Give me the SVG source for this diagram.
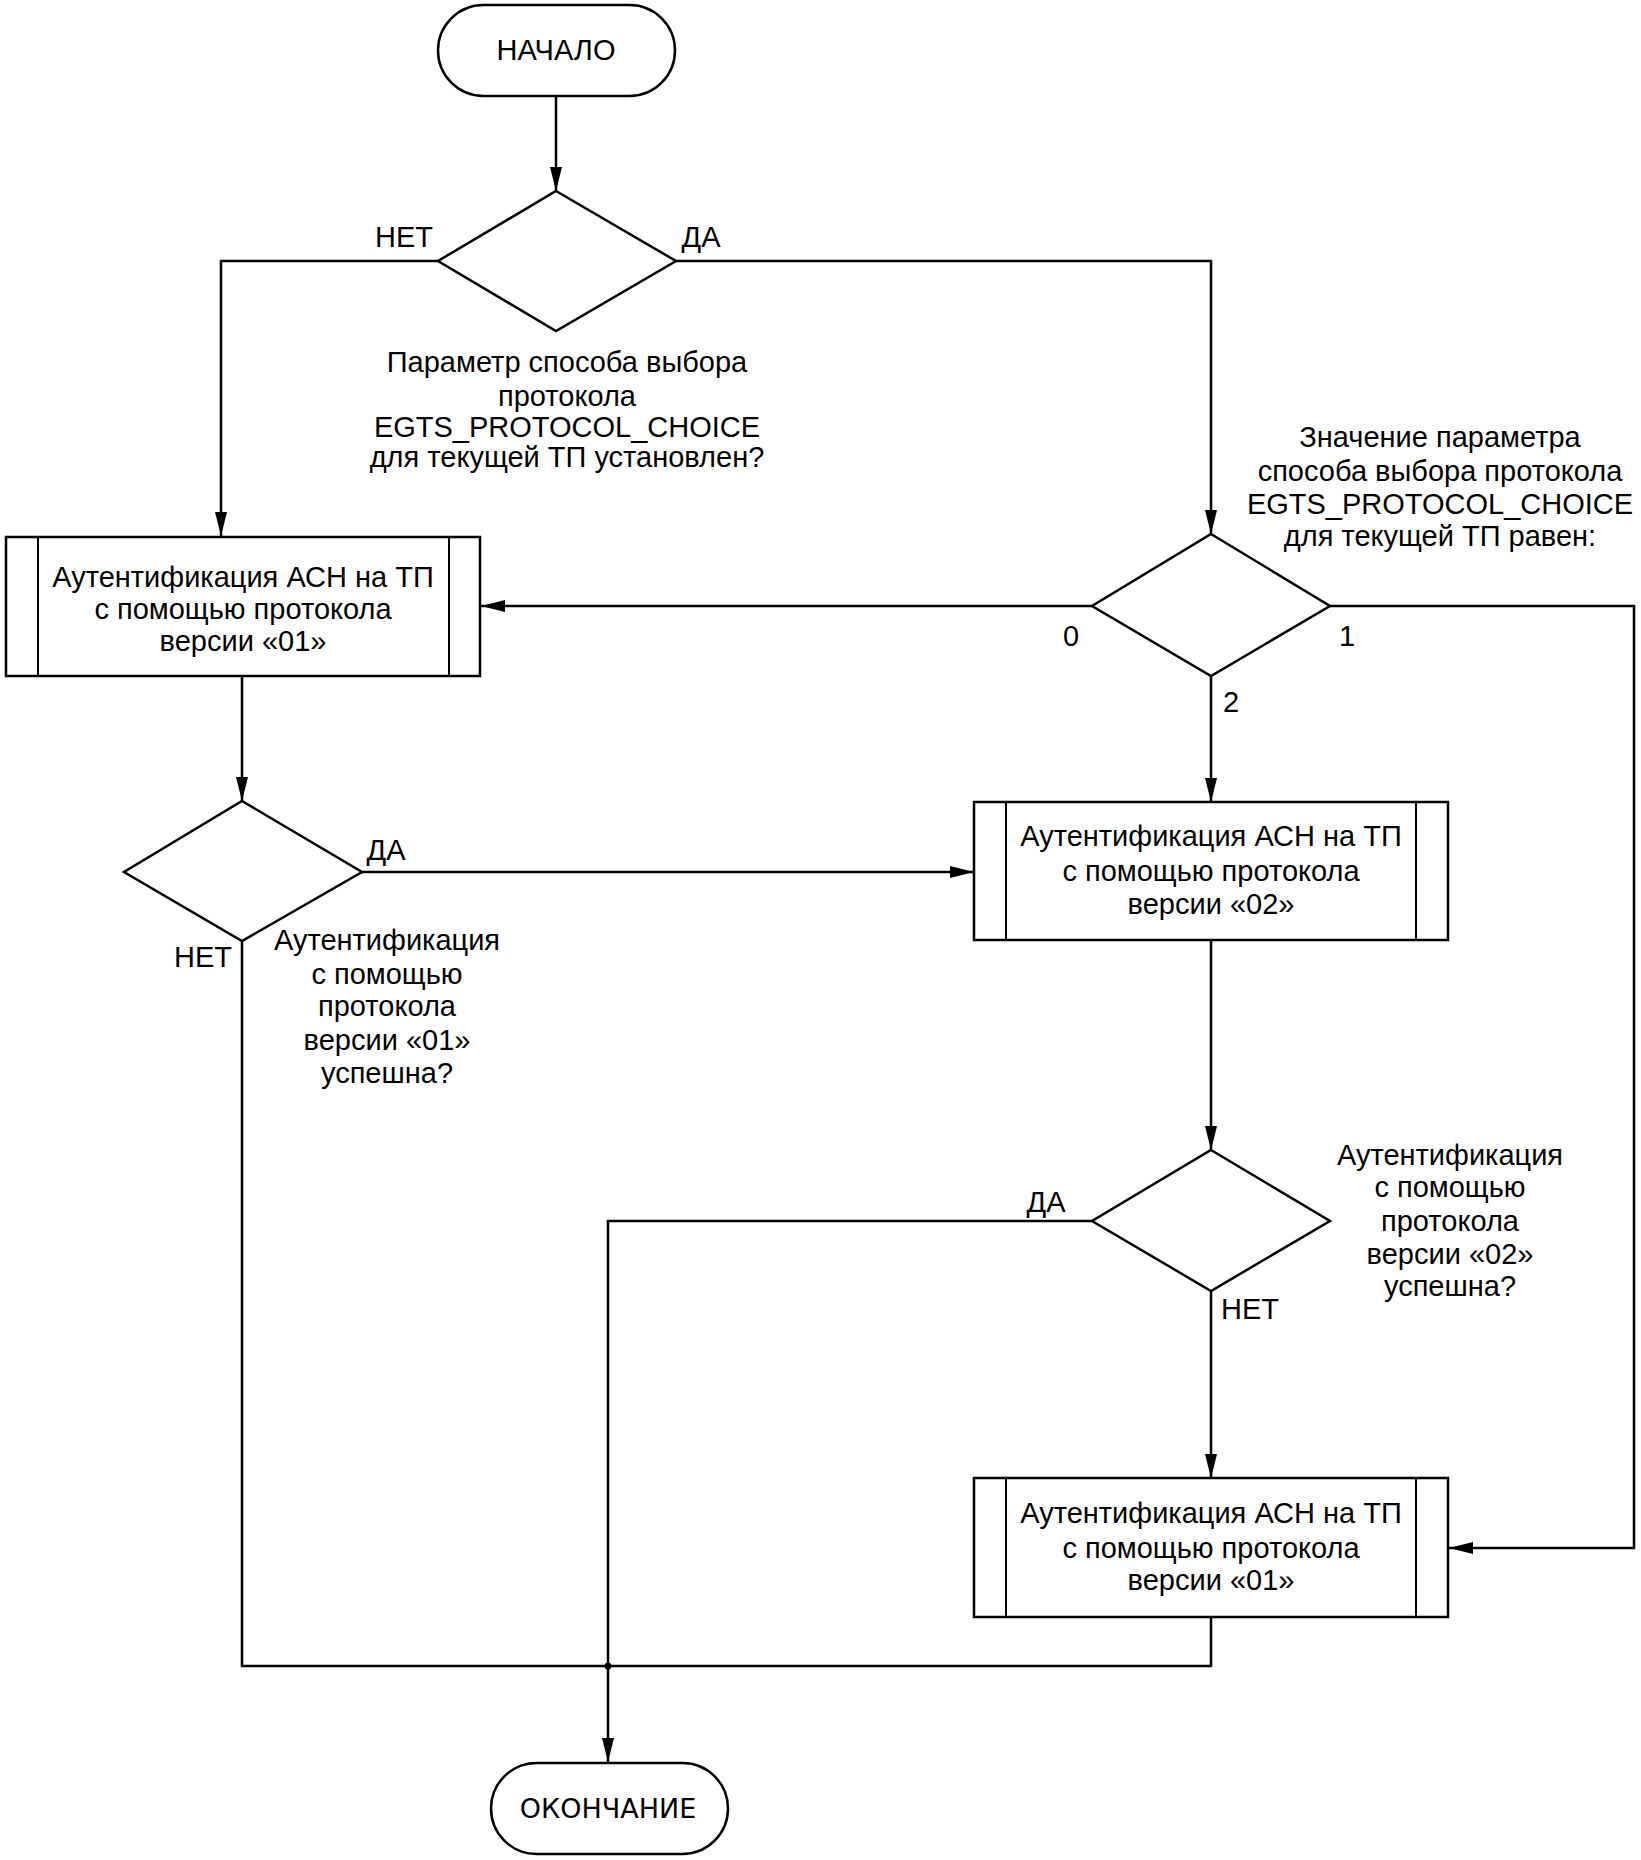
<svg xmlns="http://www.w3.org/2000/svg" width="1641" height="1860" viewBox="0 0 1641 1860">
<defs>
<marker id="arr" viewBox="0 0 24 12" refX="24" refY="6" markerWidth="24" markerHeight="12" markerUnits="userSpaceOnUse" orient="auto">
<path d="M0,0 L24,6 L0,12 Z" fill="#000"/>
</marker>
<style>
.shape{fill:#fff;stroke:#000;stroke-width:2.5}
.bar{fill:none;stroke:#000;stroke-width:2}
.conn{fill:none;stroke:#000;stroke-width:2.5;marker-end:url(#arr)}
.plain{fill:none;stroke:#000;stroke-width:2.5}
text{font-family:"Liberation Sans",Arial,sans-serif;font-size:29px;fill:#000;text-anchor:middle}
.term{font-family:"DejaVu Sans","Liberation Sans",sans-serif;font-size:27px}
.start{font-size:29px}
</style>
</defs>
<rect width="1641" height="1860" fill="#fff"/>
<g id="connectors">
<path class="conn" d="M556,96 L556,191"/>
<path class="conn" d="M438,261 L221,261 L221,536"/>
<path class="conn" d="M676,261 L1211,261 L1211,534"/>
<path class="conn" d="M1092,606 L481,606"/>
<path class="conn" d="M1330,606 L1634,606 L1634,1548 L1449,1548"/>
<path class="conn" d="M1211,676 L1211,802"/>
<path class="conn" d="M242,676 L242,801"/>
<path class="conn" d="M362,872 L974,872"/>
<path class="plain" d="M242,941 L242,1666 L1211,1666 L1211,1617"/>
<path class="conn" d="M1211,940 L1211,1150"/>
<path class="conn" d="M1092,1221 L608,1221 L608,1762"/>
<path class="conn" d="M1211,1291 L1211,1478"/>
<circle cx="608" cy="1666" r="3.5" fill="#000"/>
<text x="404" y="247">НЕТ</text>
<text x="701" y="247">ДА</text>
<text x="1071" y="646">0</text>
<text x="1347" y="646">1</text>
<text x="1231" y="712">2</text>
<text x="386" y="860">ДА</text>
<text x="203" y="967">НЕТ</text>
<text x="1046" y="1212">ДА</text>
<text x="1250" y="1319">НЕТ</text>
</g>
<g id="start">
<rect class="shape" x="438" y="5" width="237" height="91" rx="45.5"/>
<text class="start" x="556" y="60">НАЧАЛО</text>
</g>
<g id="decision1">
<polygon class="shape" points="556,191 676,261 556,331 438,261"/>
<text x="567" y="372">Параметр способа выбора</text>
<text x="567" y="406">протокола</text>
<text x="567" y="437">EGTS_PROTOCOL_CHOICE</text>
<text x="567" y="467">для текущей ТП установлен?</text>
</g>
<g id="decision2">
<polygon class="shape" points="1211,534 1330,606 1211,676 1092,606"/>
<text x="1440" y="447">Значение параметра</text>
<text x="1440" y="481">способа выбора протокола</text>
<text x="1440" y="514">EGTS_PROTOCOL_CHOICE</text>
<text x="1440" y="546">для текущей ТП равен:</text>
</g>
<g id="process1">
<rect class="shape" x="6" y="537" width="474" height="139"/>
<line class="bar" x1="38" y1="537" x2="38" y2="676"/>
<line class="bar" x1="449" y1="537" x2="449" y2="676"/>
<text x="243" y="587">Аутентификация АСН на ТП</text>
<text x="243" y="619">с помощью протокола</text>
<text x="243" y="651">версии «01»</text>
</g>
<g id="decision3">
<polygon class="shape" points="242,801 362,872 242,941 124,872"/>
<text x="387" y="950">Аутентификация</text>
<text x="387" y="984">с помощью</text>
<text x="387" y="1016">протокола</text>
<text x="387" y="1050">версии «01»</text>
<text x="387" y="1083">успешна?</text>
</g>
<g id="process2">
<rect class="shape" x="974" y="802" width="474" height="138"/>
<line class="bar" x1="1006" y1="802" x2="1006" y2="940"/>
<line class="bar" x1="1416" y1="802" x2="1416" y2="940"/>
<text x="1211" y="846">Аутентификация АСН на ТП</text>
<text x="1211" y="881">с помощью протокола</text>
<text x="1211" y="914">версии «02»</text>
</g>
<g id="decision4">
<polygon class="shape" points="1211,1150 1330,1221 1211,1291 1092,1221"/>
<text x="1450" y="1165">Аутентификация</text>
<text x="1450" y="1197">с помощью</text>
<text x="1450" y="1231">протокола</text>
<text x="1450" y="1264">версии «02»</text>
<text x="1450" y="1296">успешна?</text>
</g>
<g id="process3">
<rect class="shape" x="974" y="1478" width="474" height="139"/>
<line class="bar" x1="1006" y1="1478" x2="1006" y2="1617"/>
<line class="bar" x1="1416" y1="1478" x2="1416" y2="1617"/>
<text x="1211" y="1523">Аутентификация АСН на ТП</text>
<text x="1211" y="1558">с помощью протокола</text>
<text x="1211" y="1590">версии «01»</text>
</g>
<g id="end">
<rect class="shape" x="491" y="1763" width="237" height="91" rx="45.5"/>
<text class="term" x="608" y="1818">ОКОНЧАНИЕ</text>
</g>
</svg>
